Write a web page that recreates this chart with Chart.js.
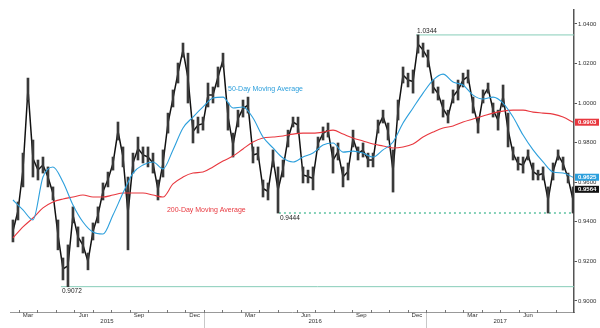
<!DOCTYPE html>
<html>
<head>
<meta charset="utf-8">
<script src="https://cdn.jsdelivr.net/npm/chart.js@4.4.0/dist/chart.umd.min.js"></script>
<style>
html, body { margin: 0; padding: 0; background: #fff; }
#chart { display: block; }
</style>
</head>
<body>
<canvas id="chart" width="600" height="328"></canvas>
<script>
// x is counted in months from 1 Jan 2015
const priceStart = 1.69, priceStep = 0.27;
const maStart = 1.69, maStep = 0.54;

const high = [0.9409,0.9500,0.9747,1.0126,0.9813,0.9712,0.9727,0.9677,0.9576,0.9409,
  0.9217,0.9283,0.9475,0.9374,0.9323,0.9242,0.9394,0.9475,0.9596,0.9651,
  0.9727,0.9904,0.9778,0.9626,0.9747,0.9828,0.9778,0.9778,0.9747,0.9611,
  0.9763,0.9949,1.0066,1.0202,1.0303,1.0252,0.9914,0.9929,0.9929,1.0101,
  1.0081,1.0182,1.0252,1.0000,0.9848,0.9964,1.0015,1.0030,0.9778,0.9778,
  0.9611,0.9596,0.9763,0.9677,0.9712,0.9863,0.9929,0.9929,0.9677,0.9661,
  0.9677,0.9828,0.9879,0.9899,0.9778,0.9798,0.9677,0.9697,0.9863,0.9778,
  0.9798,0.9747,0.9747,0.9914,0.9964,0.9899,0.9763,1.0015,1.0182,1.0151,
  1.0167,1.0344,1.0303,1.0268,1.0116,1.0081,1.0015,0.9964,1.0066,1.0116,
  1.0151,1.0167,1.0030,0.9929,1.0066,1.0101,1.0000,0.9964,1.0091,0.9949,
  0.9778,0.9727,0.9727,0.9763,0.9697,0.9661,0.9677,0.9576,0.9697,0.9763,
  0.9727,0.9646,0.9576];
const low = [0.9298,0.9409,0.9576,1.0015,0.9626,0.9611,0.9646,0.9576,0.9510,0.9258,
  0.9106,0.9072,0.9394,0.9273,0.9242,0.9157,0.9308,0.9394,0.9510,0.9576,
  0.9661,0.9813,0.9677,0.9258,0.9646,0.9712,0.9697,0.9677,0.9646,0.9510,
  0.9626,0.9848,0.9980,1.0101,1.0232,1.0000,0.9798,0.9848,0.9863,0.9980,
  1.0000,1.0081,1.0182,0.9863,0.9727,0.9879,0.9929,0.9949,0.9697,0.9712,
  0.9525,0.9510,0.9677,0.9444,0.9626,0.9778,0.9879,0.9848,0.9596,0.9596,
  0.9561,0.9763,0.9813,0.9828,0.9646,0.9712,0.9576,0.9611,0.9778,0.9712,
  0.9727,0.9677,0.9677,0.9848,0.9899,0.9813,0.9550,0.9914,1.0101,1.0081,
  1.0050,1.0252,1.0232,1.0182,1.0050,1.0015,0.9929,0.9899,1.0000,1.0015,
  1.0081,1.0101,0.9949,0.9848,1.0000,1.0050,0.9929,0.9863,0.9980,0.9778,
  0.9712,0.9661,0.9646,0.9712,0.9611,0.9611,0.9611,0.9444,0.9611,0.9712,
  0.9661,0.9596,0.9444];
const ma50 = [0.9510,0.9460,0.9409,0.9626,0.9677,0.9601,0.9485,0.9399,0.9348,0.9338,
  0.9434,0.9545,0.9646,0.9687,0.9702,0.9667,0.9763,0.9874,0.9929,0.9980,
  1.0025,1.0030,0.9975,0.9980,0.9924,0.9828,0.9773,0.9722,0.9702,0.9727,
  0.9747,0.9788,0.9798,0.9752,0.9757,0.9747,0.9727,0.9763,0.9803,0.9899,
  0.9975,1.0050,1.0116,1.0146,1.0106,1.0091,1.0040,1.0020,1.0030,1.0000,
  0.9929,0.9838,0.9763,0.9702,0.9651,0.9646,0.9625];
const ma200 = [0.9318,0.9374,0.9419,0.9470,0.9500,0.9515,0.9525,0.9535,0.9525,0.9525,
  0.9535,0.9545,0.9545,0.9545,0.9535,0.9525,0.9591,0.9626,0.9646,0.9651,
  0.9677,0.9707,0.9732,0.9768,0.9803,0.9823,0.9828,0.9833,0.9843,0.9848,
  0.9848,0.9853,0.9863,0.9843,0.9823,0.9808,0.9793,0.9783,0.9773,0.9778,
  0.9793,0.9828,0.9853,0.9874,0.9884,0.9904,0.9919,0.9934,0.9949,0.9959,
  0.9964,0.9964,0.9954,0.9949,0.9944,0.9929,0.9903];
const lastPrice = 0.9564;

const monthNames = ['Jan','Feb','Mar','Apr','May','Jun','Jul','Aug','Sep','Oct','Nov','Dec'];
const labelMonths = ['Mar','Jun','Sep','Dec'];
const years = ['2015','2016','2017'];
const yTicks = [0.90,0.92,0.94,0.96,0.98,1.00,1.02,1.04];

const levelValues = [1.0344, 0.9072, 0.9444];
const levelStarts = [23.45, 4.28, 16.05];

const xMin = 1.53, xMax = 31.98;
const RED = '#e8383f', BLUE = '#2c9fdc', TEAL = '#86cdb8', DOTS = '#5fc2a2';
const FONT = 'Liberation Sans';
Chart.defaults.font.family = FONT;

const px = (v, i, start, step) => ({ x: start + i * step, y: v });

const levelSets = levelValues.map((v, i) => ({
  type: 'line',
  data: [{ x: levelStarts[i], y: v }, { x: xMax, y: v }],
  borderColor: i === 2 ? DOTS : TEAL,
  borderWidth: i === 2 ? 1.6 : 1,
  borderDash: i === 2 ? [2, 3] : [],
  pointRadius: 0,
  order: 5
}));

const extras = {
  id: 'extras',
  afterDraw(chart) {
    const { ctx, chartArea, scales: { x, y } } = chart;
    ctx.save();
    // month boundary ticks
    ctx.strokeStyle = '#777';
    ctx.lineWidth = 1;
    for (let m = Math.ceil(xMin); m <= xMax; m++) {
      const xp = Math.round(x.getPixelForValue(m)) + 0.5;
      ctx.beginPath();
      ctx.moveTo(xp, chartArea.bottom - 2);
      ctx.lineTo(xp, chartArea.bottom + 1);
      ctx.stroke();
    }
    // year separators and labels
    ctx.fillStyle = '#333';
    ctx.font = '6px ' + FONT;
    ctx.textAlign = 'center';
    ctx.textBaseline = 'middle';
    years.forEach((yr, i) => {
      const a = Math.max(xMin, i * 12), b = Math.min(xMax, (i + 1) * 12);
      ctx.fillText(yr, x.getPixelForValue((a + b) / 2), 321.5);
      if (i > 0) {
        const xp = Math.round(x.getPixelForValue(i * 12)) + 0.5;
        ctx.strokeStyle = '#c8c8c8';
        ctx.beginPath();
        ctx.moveTo(xp, chartArea.bottom + 1);
        ctx.lineTo(xp, 328);
        ctx.stroke();
      }
    });
    // level labels
    ctx.textAlign = 'left';
    ctx.fillStyle = '#222';
    ctx.font = '6.5px ' + FONT;
    levelValues.forEach((v, i) => {
      const xp = x.getPixelForValue(levelStarts[i]) + 1;
      const yp = y.getPixelForValue(v);
      ctx.fillText(v.toFixed(4), xp, i === 0 ? yp - 4 : yp + 5);
    });
    // moving average names
    ctx.font = '7px ' + FONT;
    ctx.fillStyle = BLUE;
    ctx.fillText('50-Day Moving Average', x.getPixelForValue(13.3), y.getPixelForValue(1.0071));
    ctx.fillStyle = RED;
    ctx.fillText('200-Day Moving Average', x.getPixelForValue(10.0), y.getPixelForValue(0.9460));
    // last value tags on the axis
    const tags = [
      [ma200[ma200.length - 1], RED],
      [ma50[ma50.length - 1], BLUE],
      [lastPrice, '#111']
    ];
    ctx.font = 'bold 6px ' + FONT;
    tags.forEach(([v, c]) => {
      const yp = y.getPixelForValue(v);
      ctx.fillStyle = c;
      ctx.fillRect(chartArea.right + 1, yp - 3.5, 24, 7);
      ctx.fillStyle = '#fff';
      ctx.fillText(v.toFixed(4), chartArea.right + 4, yp + 0.5);
    });
    ctx.restore();
  }
};

new Chart(document.getElementById('chart'), {
  data: {
    datasets: [
      {
        type: 'line',
        data: ma50.map((v, i) => px(v, i, maStart, maStep)),
        borderColor: BLUE, borderWidth: 1.1, pointRadius: 0,
        cubicInterpolationMode: 'monotone', order: 1
      },
      {
        type: 'line',
        data: ma200.map((v, i) => px(v, i, maStart, maStep)),
        borderColor: RED, borderWidth: 1.1, pointRadius: 0,
        cubicInterpolationMode: 'monotone', order: 1
      },
      {
        type: 'bar',
        data: high.map((h, i) => ({ x: priceStart + i * priceStep, y: [low[i], h] })),
        backgroundColor: '#3a3a3a', barThickness: 2, order: 3
      },
      {
        type: 'line',
        data: high.map((h, i) => px((h + low[i]) / 2, i, priceStart, priceStep)),
        borderColor: '#111', borderWidth: 1.5, pointRadius: 0, order: 3
      },
      ...levelSets
    ]
  },
  options: {
    responsive: false,
    animation: false,
    devicePixelRatio: 1,
    layout: { padding: { left: 10, top: 10, right: 0, bottom: 0 } },
    plugins: { legend: { display: false }, tooltip: { enabled: false } },
    scales: {
      x: {
        type: 'linear', position: 'bottom', min: xMin, max: xMax, offset: false,
        afterBuildTicks: s => {
          const t = [];
          for (let m = Math.floor(xMin); m < xMax; m++) {
            if (labelMonths.includes(monthNames[m % 12]) && m + 0.5 > xMin) t.push({ value: m + 0.5 });
          }
          s.ticks = t;
        },
        afterFit: s => { s.height = 16; },
        ticks: {
          autoSkip: false, maxRotation: 0, padding: 0,
          font: { size: 6 }, color: '#333',
          callback: v => monthNames[Math.floor(v) % 12]
        },
        grid: { drawOnChartArea: false, drawTicks: false, offset: false },
        border: { color: '#999', width: 1 }
      },
      y: {
        type: 'linear', position: 'right', min: 0.8944, max: 1.047,
        afterBuildTicks: s => { s.ticks = yTicks.map(v => ({ value: v })); },
        afterFit: s => { s.width = 26; },
        ticks: { padding: 1, font: { size: 6 }, color: '#333', callback: v => v.toFixed(4) },
        grid: { drawOnChartArea: false, tickLength: 3, tickColor: '#555' },
        border: { color: '#555', width: 1.5 }
      }
    }
  },
  plugins: [extras]
});
</script>
</body>
</html>
